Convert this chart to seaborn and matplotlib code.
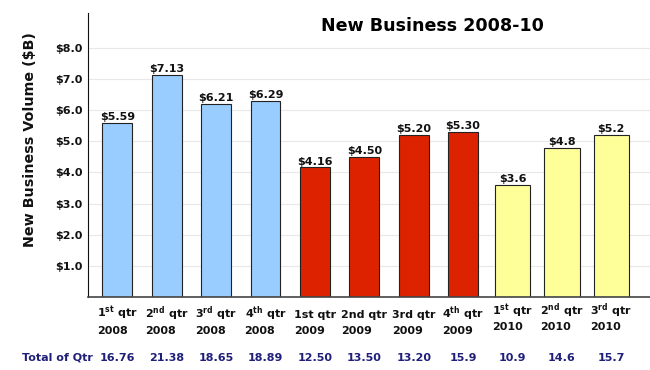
import matplotlib
matplotlib.use("Agg")
import matplotlib.pyplot as plt
import matplotlib.transforms as mtransforms
import seaborn as sns
import pandas as pd

# ---- data ----
ordinals = ["1", "2", "3", "4", "1", "2", "3", "4", "1", "2", "3"]
suffixes = ["st", "nd", "rd", "th", "st", "nd", "rd", "th", "st", "nd", "rd"]
superscript = [True, True, True, True, False, False, False, True, True, True, True]
years = ["2008"] * 4 + ["2009"] * 4 + ["2010"] * 3
values = [5.59, 7.13, 6.21, 6.29, 4.16, 4.50, 5.20, 5.30, 3.6, 4.8, 5.2]
value_labels = ["$5.59", "$7.13", "$6.21", "$6.29", "$4.16", "$4.50", "$5.20",
                "$5.30", "$3.6", "$4.8", "$5.2"]
totals = ["16.76", "21.38", "18.65", "18.89", "12.50", "13.50", "13.20",
          "15.9", "10.9", "14.6", "15.7"]
yticks = [1, 2, 3, 4, 5, 6, 7, 8]
ytick_labels = ["$1.0", "$2.0", "$3.0", "$4.0", "$5.0", "$6.0", "$7.0", "$8.0"]
title = "New Business 2008-10"
ylabel = "New Business Volume ($B)"
total_caption = "Total of Qtr"

# ---- styles ----
year_colors = {"2008": "#99CCFF", "2009": "#DD2200", "2010": "#FFFF99"}
year_widths = {"2008": 0.6, "2009": 0.6, "2010": 0.72}
navy = "#1f1f7a"

sns.set_theme(style="white")
plt.rcParams["font.family"] = ["DejaVu Sans"]
plt.rcParams["font.weight"] = "bold"
plt.rcParams["axes.labelweight"] = "bold"
plt.rcParams["mathtext.fontset"] = "dejavusans"

df = pd.DataFrame({
    "key": [f"{o}{s} {y}" for o, s, y in zip(ordinals, suffixes, years)],
    "value": values,
    "year": years,
})
order = list(df["key"])

fig = plt.figure(figsize=(6.5, 3.7), dpi=100)
ax = fig.add_axes([88 / 650, 73 / 370, 1 - 88 / 650, 284 / 370])

for yr in ["2008", "2009", "2010"]:
    sub = df[df["year"] == yr]
    sns.barplot(data=sub, x="key", y="value", order=order, color=year_colors[yr],
                saturation=1, width=year_widths[yr], edgecolor="#222222",
                linewidth=0.8, ax=ax)

ax.set_xlim(-0.593, 10.783)
ax.set_ylim(0, 9.12)
ax.set_yticks(yticks)
ax.set_yticklabels(ytick_labels)
ax.tick_params(axis="y", length=0, pad=4, labelsize=8, colors="#111111")
ax.tick_params(axis="x", length=0, labelbottom=False)
ax.set_xlabel("")
ax.set_ylabel(ylabel, fontsize=10.3, color="#111111", va="center")
ax.yaxis.set_label_coords(-58 / 562, (297 - 140) / 284)
ax.yaxis.grid(True, color="#e8e8e8", linewidth=0.8)
ax.set_axisbelow(True)

for side in ["top", "right"]:
    ax.spines[side].set_visible(False)
ax.spines["left"].set_color("#111111")
ax.spines["left"].set_linewidth(0.8)
ax.spines["bottom"].set_color("#444444")
ax.spines["bottom"].set_linewidth(1.2)

# value labels above bars
for i, (v, lab) in enumerate(zip(values, value_labels)):
    ax.annotate(lab, (i, v), xytext=(0, 0.5), textcoords="offset points",
                ha="center", va="bottom", fontsize=8, color="#111111")

# category labels (two lines, left-aligned to each other)
trans = ax.get_xaxis_transform()
line1_texts = []
for i, (o, s, sup, y) in enumerate(zip(ordinals, suffixes, superscript, years)):
    if sup:
        l1 = o + r"$^{\mathbf{" + s + r"}}$ qtr"
    else:
        l1 = f"{o}{s} qtr"
    if y == "2010":
        y1, y2 = (297 - 315) / 284, (297 - 330) / 284
    else:
        y1, y2 = (297 - 317.5) / 284, (297 - 333.5) / 284
    t1 = ax.text(i, y1, l1, transform=trans, ha="center", va="baseline",
                 fontsize=8, color="#111111")
    line1_texts.append((t1, y, y2))

fig.canvas.draw()
renderer = fig.canvas.get_renderer()
for t1, y, y2 in line1_texts:
    bb = t1.get_window_extent(renderer)
    x0 = ax.transData.inverted().transform((bb.x0, 0))[0]
    ax.text(x0, y2, y, transform=trans, ha="left", va="baseline",
            fontsize=8, color="#111111")

# totals row
ytot = (297 - 361) / 284
for i, tot in enumerate(totals):
    ax.text(i, ytot, tot, transform=trans, ha="center", va="baseline",
            fontsize=8, color=navy)
fig.text(22 / 650, 1 - 361 / 370, total_caption, ha="left", va="baseline",
         fontsize=8, color=navy)

fig.text(432 / 650, 1 - 31 / 370, title, ha="center", va="baseline",
         fontsize=12.6, color="#000000")

fig.savefig("out.png", dpi=100)
